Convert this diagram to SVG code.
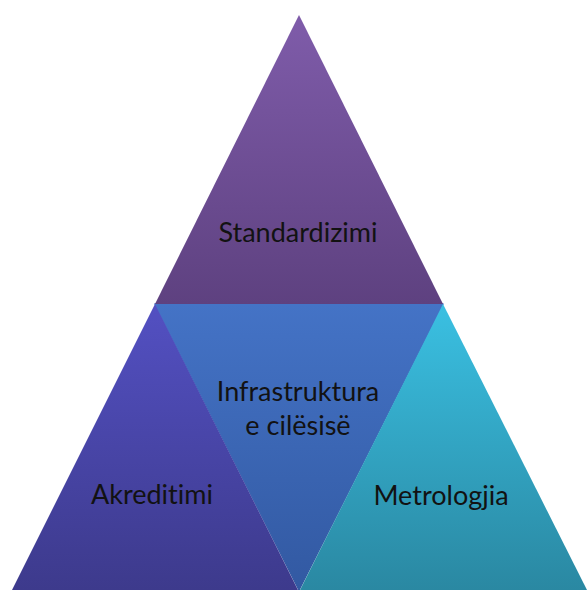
<svg xmlns="http://www.w3.org/2000/svg" width="587" height="590" viewBox="0 0 587 590">
<defs>
<linearGradient id="gTop" x1="0" y1="15" x2="0" y2="304" gradientUnits="userSpaceOnUse">
<stop offset="0" stop-color="#7f5caa"/>
<stop offset="1" stop-color="#5e4180"/>
</linearGradient>
<linearGradient id="gMid" x1="0" y1="304" x2="0" y2="590" gradientUnits="userSpaceOnUse">
<stop offset="0" stop-color="#4473c6"/>
<stop offset="1" stop-color="#3259a2"/>
</linearGradient>
<linearGradient id="gLeft" x1="0" y1="304" x2="0" y2="590" gradientUnits="userSpaceOnUse">
<stop offset="0" stop-color="#5350c2"/>
<stop offset="1" stop-color="#3d3a8c"/>
</linearGradient>
<linearGradient id="gRight" x1="0" y1="304" x2="0" y2="590" gradientUnits="userSpaceOnUse">
<stop offset="0" stop-color="#3ac0e2"/>
<stop offset="1" stop-color="#2a88a2"/>
</linearGradient>
</defs>
<style>
text{font-family:"Lato","Open Sans","Liberation Sans",sans-serif;font-size:27px;fill:#121212;text-anchor:middle;font-variant-ligatures:none}
</style>
<rect width="587" height="590" fill="#ffffff"/>
<g id="infrastruktura">
<polygon points="155,304 443,304 299,590" fill="url(#gMid)" stroke="url(#gMid)" stroke-width="1.5" stroke-linejoin="round"/>
</g>
<g id="standardizimi">
<polygon points="299,15 443,304 155,304" fill="url(#gTop)"/>
<text x="298" y="242">Standardizimi</text>
</g>
<g id="akreditimi">
<polygon points="155,304 298,590 12,590" fill="url(#gLeft)"/>
<text x="152" y="504">Akreditimi</text>
</g>
<g id="metrologjia">
<polygon points="443,304 587,590 300,590" fill="url(#gRight)"/>
<text x="441" y="505">Metrologjia</text>
</g>
<g id="infrastruktura-label">
<text x="298" y="401">Infrastruktura</text>
<text x="298" y="435">e cilësisë</text>
</g>
<g id="connectors"/>
</svg>
